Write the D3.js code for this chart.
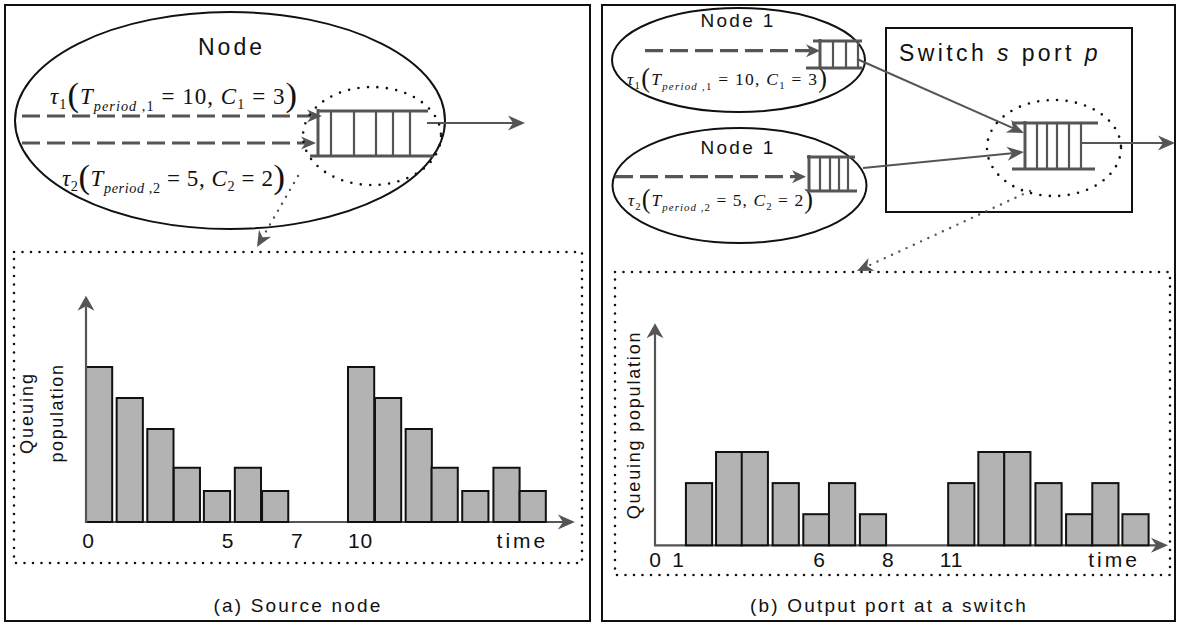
<!DOCTYPE html>
<html><head><meta charset="utf-8">
<script src="https://cdn.jsdelivr.net/npm/d3@7"></script>
<style>html,body{margin:0;padding:0;background:#fff}svg{display:block}</style>
</head><body><svg id="fig" width="1178" height="624"></svg>
<script>
// (a) Source node: start time of each transmission slot and the queue length during it
const sourceStart = [0, 1.17, 2.34, 3.35, 4.5, 5.68, 6.72, 10.0, 11.03, 12.2, 13.19, 14.36, 15.55, 16.55];
const sourceQueue = [5, 4, 3, 1.75, 1, 1.75, 1, 5, 4, 3, 1.75, 1, 1.75, 1];
const sourceTickAt = [0.08, 5.4, 8.05, 10.46, 16.64];
const sourceTickLabels = ["0", "5", "7", "10", "time"];

// (b) Output port at a switch
const switchStart = [1.18, 2.33, 3.31, 4.49, 5.66, 6.64, 7.82, 11.19, 12.34, 13.33, 14.52, 15.69, 16.69, 17.84];
const switchQueue = [2, 3, 3, 2, 1, 2, 1, 2, 3, 3, 2, 1, 2, 1];
const switchTickAt = [0, 0.88, 6.26, 8.89, 11.3, 17.5];
const switchTickLabels = ["0", "1", "6", "8", "11", "time"];

// the two periodic flows
const flowPeriod = [10, 5];
const flowCost = [3, 2];
const slotLength = 1;

const svg = d3.select('#fig');
const SANS = '"Liberation Sans", Arial, Helvetica, sans-serif';
const SERIF = '"Liberation Serif", "Times New Roman", serif';
const INK = '#111', GRAY = '#555', FILL = '#b3b3b3';

function stealth(g, x, y, ang, len, wid, color) {
  g.append('path')
    .attr('d', `M0,0L${-len},${-wid / 2}L${-len * 0.7},0L${-len},${wid / 2}Z`)
    .attr('transform', `translate(${x},${y}) rotate(${ang * 180 / Math.PI})`)
    .attr('fill', color);
}
function arrowLine(g, x1, y1, x2, y2, o) {
  const a = Math.atan2(y2 - y1, x2 - x1);
  const back = o.len * 0.7;
  const ln = g.append('line')
    .attr('x1', x1).attr('y1', y1)
    .attr('x2', x2 - Math.cos(a) * back).attr('y2', y2 - Math.sin(a) * back)
    .attr('stroke', o.color || GRAY).attr('stroke-width', o.w || 2);
  if (o.dash) ln.attr('stroke-dasharray', o.dash);
  if (o.dots) ln.attr('stroke-dasharray', `0 ${o.dots}`).attr('stroke-linecap', 'round');
  stealth(g, x2, y2, a, o.len, o.wid, o.color || GRAY);
}
function dotted(sel, color, gap, w) {
  return sel.attr('fill', 'none').attr('stroke', color).attr('stroke-width', w || 2.6)
    .attr('stroke-linecap', 'round').attr('stroke-dasharray', `0 ${gap || 8.5}`);
}
function label(g, x, y, txt, size, ls, anchor, rot) {
  const t = g.append('text')
    .attr('x', x).attr('y', y)
    .attr('text-anchor', anchor || 'middle')
    .style('font-family', SANS).style('font-size', size + 'px')
    .style('letter-spacing', ls + 'px').attr('fill', INK)
    .text(txt);
  if (rot) t.attr('transform', `rotate(${rot},${x},${y})`);
  return t;
}
function hline(g, x1, x2, y, w) {
  g.append('line').attr('x1', x1).attr('x2', x2).attr('y1', y).attr('y2', y)
    .attr('stroke', GRAY).attr('stroke-width', w);
}
function vline(g, x, y1, y2, w) {
  g.append('line').attr('x1', x).attr('x2', x).attr('y1', y1).attr('y2', y2)
    .attr('stroke', GRAY).attr('stroke-width', w);
}
// FIFO queue: two rails with slot separators
function queue(g, q) {
  hline(g, q.tx0, q.tx1, q.ty, 3.2);
  hline(g, q.bx0, q.bx1, q.by, 3.2);
  vline(g, q.border, q.ty - 2, q.by + 1, 3);
  q.cells.forEach(cx => vline(g, cx, q.ty, q.by, 2.2));
}
// flow descriptor  τi(T_period,i = P, Ci = C)
function flowText(g, x, y, S, i, width) {
  const segs = [
    {t: 'τ', it: true},
    {t: String(i), k: 0.62, sh: 0.22},
    {t: '(', k: 1.5, sh: 0.1},
    {t: 'T', it: true},
    {t: 'period', it: true, k: 0.62, sh: 0.3},
    {t: ' ,' + i, k: 0.62, sh: 0.3},
    {t: ' = ' + flowPeriod[i - 1] + ', '},
    {t: 'C', it: true},
    {t: String(i), k: 0.62, sh: 0.22},
    {t: ' = ' + flowCost[i - 1]},
    {t: ')', k: 1.5, sh: 0.1}
  ];
  const t = g.append('text').attr('x', x).attr('y', y)
    .style('font-family', SERIF).style('white-space', 'pre').attr('fill', INK);
  segs.forEach(s => {
    t.append('tspan').attr('y', y + (s.sh || 0) * S)
      .style('font-size', (s.k || 1) * S + 'px')
      .style('font-style', s.it ? 'italic' : 'normal')
      .text(s.t);
  });
  t.attr('textLength', width).attr('lengthAdjust', 'spacing');
}

// ---------- panel frames ----------
svg.append('rect').attr('x', 5).attr('y', 5).attr('width', 585).attr('height', 616)
  .attr('fill', 'none').attr('stroke', INK).attr('stroke-width', 2);
svg.append('rect').attr('x', 602).attr('y', 5).attr('width', 573).attr('height', 616)
  .attr('fill', 'none').attr('stroke', INK).attr('stroke-width', 2);

// ---------- (a) source node diagram ----------
const ga = svg.append('g');
ga.append('ellipse').attr('cx', 230).attr('cy', 120.5).attr('rx', 215).attr('ry', 108.5)
  .attr('fill', 'none').attr('stroke', INK).attr('stroke-width', 2);
label(ga, 231.5, 55, 'Node', 23, 3);
flowText(ga, 50, 104, 23, 1, 247);
flowText(ga, 62, 186, 23, 2, 223);
arrowLine(ga, 22, 116, 322, 116, {w: 3.2, dash: '18 7', len: 15, wid: 13});
arrowLine(ga, 22, 143, 316, 143, {w: 3.2, dash: '18 7', len: 15, wid: 13});
queue(ga, {tx0: 318, tx1: 428, ty: 111, bx0: 310, bx1: 433, by: 156, border: 318,
  cells: [331, 354, 376, 393, 410]});
arrowLine(ga, 427, 123, 525, 123, {w: 1.8, len: 17, wid: 15});
dotted(ga.append('ellipse').attr('cx', 372).attr('cy', 136).attr('rx', 69).attr('ry', 49), INK, 9.5);
arrowLine(ga, 298, 176, 257, 247, {w: 2.4, dots: 8, len: 16, wid: 14});

// ---------- (b) switch diagram ----------
const gb = svg.append('g');
gb.append('ellipse').attr('cx', 738.5).attr('cy', 60).attr('rx', 126.5).attr('ry', 52)
  .attr('fill', 'none').attr('stroke', INK).attr('stroke-width', 2);
gb.append('ellipse').attr('cx', 739.5).attr('cy', 185.5).attr('rx', 127).attr('ry', 57.5)
  .attr('fill', 'none').attr('stroke', INK).attr('stroke-width', 2);
label(gb, 738, 27, 'Node 1', 19, 2.3);
label(gb, 738, 154, 'Node 1', 19, 2.3);
arrowLine(gb, 645, 50.7, 820, 50.7, {w: 3.2, dash: '18 7', len: 14, wid: 13});
arrowLine(gb, 615, 176.7, 806, 176.7, {w: 3.2, dash: '18 7', len: 14, wid: 13});
flowText(gb, 627, 85, 17.5, 1, 200);
flowText(gb, 628, 206, 17.5, 2, 185);
queue(gb, {tx0: 813, tx1: 862, ty: 41, bx0: 806, bx1: 862, by: 68, border: 820,
  cells: [833, 846, 858]});
queue(gb, {tx0: 807, tx1: 855, ty: 157, bx0: 807, bx1: 857, by: 191, border: 809,
  cells: [820, 830, 839, 848]});
gb.append('rect').attr('x', 886).attr('y', 28).attr('width', 246).attr('height', 184)
  .attr('fill', 'none').attr('stroke', INK).attr('stroke-width', 2);
const sw = label(gb, 899, 61, '', 23, 3.4, 'start');
sw.append('tspan').text('Switch ');
sw.append('tspan').style('font-style', 'italic').text('s');
sw.append('tspan').text(' port ');
sw.append('tspan').style('font-style', 'italic').text('p');
sw.style('white-space', 'pre');
queue(gb, {tx0: 1012, tx1: 1098, ty: 123, bx0: 1012, bx1: 1095, by: 169, border: 1025,
  cells: [1037, 1047, 1057, 1069, 1081]});
arrowLine(gb, 1081, 143, 1175, 143, {w: 1.8, len: 17, wid: 15});
arrowLine(gb, 857, 59, 1024, 133, {w: 2, len: 17, wid: 14});
arrowLine(gb, 863, 168, 1024, 152, {w: 2, len: 17, wid: 14});
dotted(gb.append('ellipse').attr('cx', 1054).attr('cy', 148).attr('rx', 67).attr('ry', 48), INK, 9.5);
arrowLine(gb, 1030, 191, 857, 271, {w: 2.4, dots: 8, len: 16, wid: 14});

// ---------- dotted zoom boxes ----------
dotted(svg.append('rect').attr('x', 14).attr('y', 252).attr('width', 568).attr('height', 311), INK, 8.5);
dotted(svg.append('rect').attr('x', 615).attr('y', 272).attr('width', 555).attr('height', 303), INK, 8.5);

// ---------- queue population charts ----------
function drawChart(g, o) {
  const x = d3.scaleLinear().domain([0, o.tMax]).range([o.x0, o.x0 + o.tMax * o.ux]);
  const y = d3.scaleLinear().domain([0, o.yMax]).range([o.y0, o.y0 - o.yMax * o.uy]);

  // time axis with arrow
  arrowLine(g, x(0), y(0), x(o.tEnd), y(0), {w: 2.2, len: 17, wid: 15});

  g.selectAll(null).data(o.start).join('rect')
    .attr('x', d => x(d))
    .attr('width', d => x(d + slotLength) - x(d))
    .attr('y', (d, i) => y(o.values[i]))
    .attr('height', (d, i) => y(0) - y(o.values[i]))
    .attr('fill', FILL).attr('stroke', INK).attr('stroke-width', 2);

  // population axis with arrow
  arrowLine(g, x(0), y(0) + 1, x(0), y(o.yMax), {w: 2.2, len: 15, wid: 17});

  const ax = g.append('g').attr('transform', `translate(0,${y(0)})`)
    .call(d3.axisBottom(x).tickValues(o.tickAt).tickSize(0)
      .tickFormat((d, i) => o.tickLabels[i]));
  ax.select('.domain').remove();
  ax.selectAll('text')
    .attr('dy', null).attr('y', o.labelBase)
    .attr('fill', INK)
    .style('font-family', SANS).style('font-size', '21px')
    .style('letter-spacing', d => (d === o.tickAt[o.tickAt.length - 1] ? 3 : 1) + 'px');
}

drawChart(svg.append('g'), {
  start: sourceStart, values: sourceQueue, tickAt: sourceTickAt, tickLabels: sourceTickLabels,
  x0: 86, y0: 522, ux: 26.2, uy: 31, tMax: 19, tEnd: 18.66, yMax: 7.3, labelBase: 25.5
});
drawChart(svg.append('g'), {
  start: switchStart, values: switchQueue, tickAt: switchTickAt, tickLabels: switchTickLabels,
  x0: 655, y0: 545.3, ux: 26.2, uy: 31.1, tMax: 20, tEnd: 19.58, yMax: 7.14, labelBase: 21.7
});

// axis titles
label(svg, 33, 413, 'Queuing', 18, 2, 'middle', -90);
label(svg, 63, 413, 'population', 18, 1.6, 'middle', -90);
label(svg, 640, 425, 'Queuing population', 18, 1.8, 'middle', -90);

// captions
label(svg, 298, 612, '(a) Source node', 19, 2.2);
label(svg, 889, 612, '(b) Output port at a switch', 19, 2.2);
</script>
</body></html>
